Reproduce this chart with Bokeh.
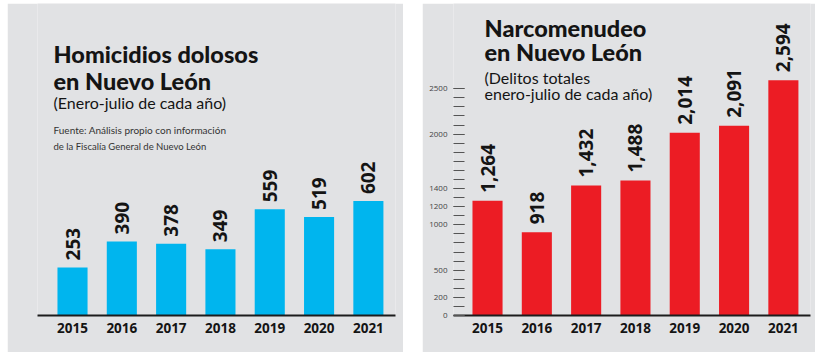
from math import pi
from bokeh.plotting import figure
from bokeh.models import Range1d, FixedTicker, Label, ColumnDataSource
from bokeh.layouts import row
from bokeh.core.properties import value
from bokeh.embed import file_html
from bokeh.resources import INLINE

# ---- data ----
years = ["2015", "2016", "2017", "2018", "2019", "2020", "2021"]
homicidios = [253, 390, 378, 349, 559, 519, 602]
narcomenudeo = [1264, 918, 1432, 1488, 2014, 2091, 2594]
narco_ticks = [0, 200, 500, 1000, 1200, 1400, 2000, 2500]
narco_minor_ticks = list(range(0, 2600, 100))

left_title = ["Homicidios dolosos", "en Nuevo León"]
left_sub = "(Enero-julio de cada año)"
left_source = ["Fuente: Análisis propio con información",
               "de la Fiscalía General de Nuevo León"]
right_title = ["Narcomenudeo", "en Nuevo León"]
right_sub = ["(Delitos totales", "enero-julio de cada año)"]

# ---- style ----
BG = "#E1E2E4"
CYAN = "#00B5EE"
RED = "#EC1C24"
INK = "#141414"
TITLE_FONT = "Lato"
HEAVY_FONT = "Lato Black, Lato"
NUM_FONT = "Open Sans"

idx = list(range(len(years)))


def base_fig(width, margin, y_end, x_start, x_end, border_left, border_right):
    p = figure(width=width, height=349, output_backend="svg", toolbar_location=None,
               x_range=Range1d(x_start, x_end), y_range=Range1d(0, y_end),
               min_border_left=border_left, min_border_right=border_right,
               min_border_top=0, min_border_bottom=37,
               background_fill_color=BG, border_fill_color=BG,
               outline_line_color=None, margin=margin)
    p.xgrid.visible = False
    p.ygrid.visible = False
    xa = p.xaxis[0]
    xa.ticker = FixedTicker(ticks=idx)
    xa.major_label_overrides = {i: y for i, y in zip(idx, years)}
    xa.major_tick_in = 0
    xa.major_tick_out = 0
    xa.minor_tick_line_color = None
    xa.axis_line_color = "#1c1c1c"
    xa.axis_line_width = 2
    xa.major_label_text_font = NUM_FONT
    xa.major_label_text_font_style = "bold"
    xa.major_label_text_font_size = "13.5px"
    xa.major_label_text_color = INK
    xa.major_label_standoff = 7
    return p


def add_label(p, text, x, y, size, heavy=False, color=INK):
    p.add_layout(Label(x=x, y=y, x_units="screen", y_units="screen", text=text,
                       text_font=HEAVY_FONT if heavy else TITLE_FONT,
                       text_font_size=size,
                       text_font_style="bold" if heavy else "normal",
                       text_color=color, text_baseline="alphabetic"))


# ---- left panel ----
p1 = base_fig(396, (3, 0, 0, 7), 1642, -0.71, 6.55, 30, 8)
p1.yaxis.visible = False
src1 = ColumnDataSource(dict(x=idx, v=homicidios, lbl=[f"{v:,}" for v in homicidios]))
p1.vbar(x="x", top="v", width=0.61, source=src1, fill_color=CYAN, line_color=None)
p1.text(x="x", y="v", text="lbl", source=src1, angle=pi / 2, text_align="left",
        text_baseline="middle", y_offset=-7, text_font=value(NUM_FONT),
        text_font_style="bold", text_font_size="19px", text_color=INK)
add_label(p1, left_title[0], 16, 262, "23.5px", heavy=True)
add_label(p1, left_title[1], 16, 235, "23.5px", heavy=True)
add_label(p1, left_sub, 16, 213, "16px")
add_label(p1, left_source[0], 16, 186, "10px", color="#333333")
add_label(p1, left_source[1], 16, 169, "9.5px", color="#333333")

# ---- right panel ----
p2 = base_fig(393, (3, 0, 0, 19), 3440, -0.69, 6.55, 31, 5)
ya = p2.yaxis[0]
ya.ticker = FixedTicker(ticks=narco_ticks, minor_ticks=narco_minor_ticks)
ya.axis_line_color = None
ya.major_tick_in = 11
ya.major_tick_out = 0
ya.minor_tick_in = 11
ya.minor_tick_out = 0
ya.major_tick_line_color = "#555555"
ya.minor_tick_line_color = "#555555"
ya.major_label_text_font = NUM_FONT
ya.major_label_text_font_size = "8px"
ya.major_label_text_color = "#444444"
ya.major_label_standoff = 6
src2 = ColumnDataSource(dict(x=idx, v=narcomenudeo, lbl=[f"{v:,}" for v in narcomenudeo]))
p2.vbar(x="x", top="v", width=0.61, source=src2, fill_color=RED, line_color=None)
p2.text(x="x", y="v", text="lbl", source=src2, angle=pi / 2, text_align="left",
        text_baseline="middle", y_offset=-8, text_font=value(NUM_FONT),
        text_font_style="bold", text_font_size="19px", text_color=INK)
add_label(p2, right_title[0], 31, 288, "23.5px", heavy=True)
add_label(p2, right_title[1], 31, 264, "23.5px", heavy=True)
add_label(p2, right_sub[0], 31, 238, "16px")
add_label(p2, right_sub[1], 31, 222, "16px")

layout = row(p1, p2)
open("out.html", "w").write(file_html(layout, INLINE))
